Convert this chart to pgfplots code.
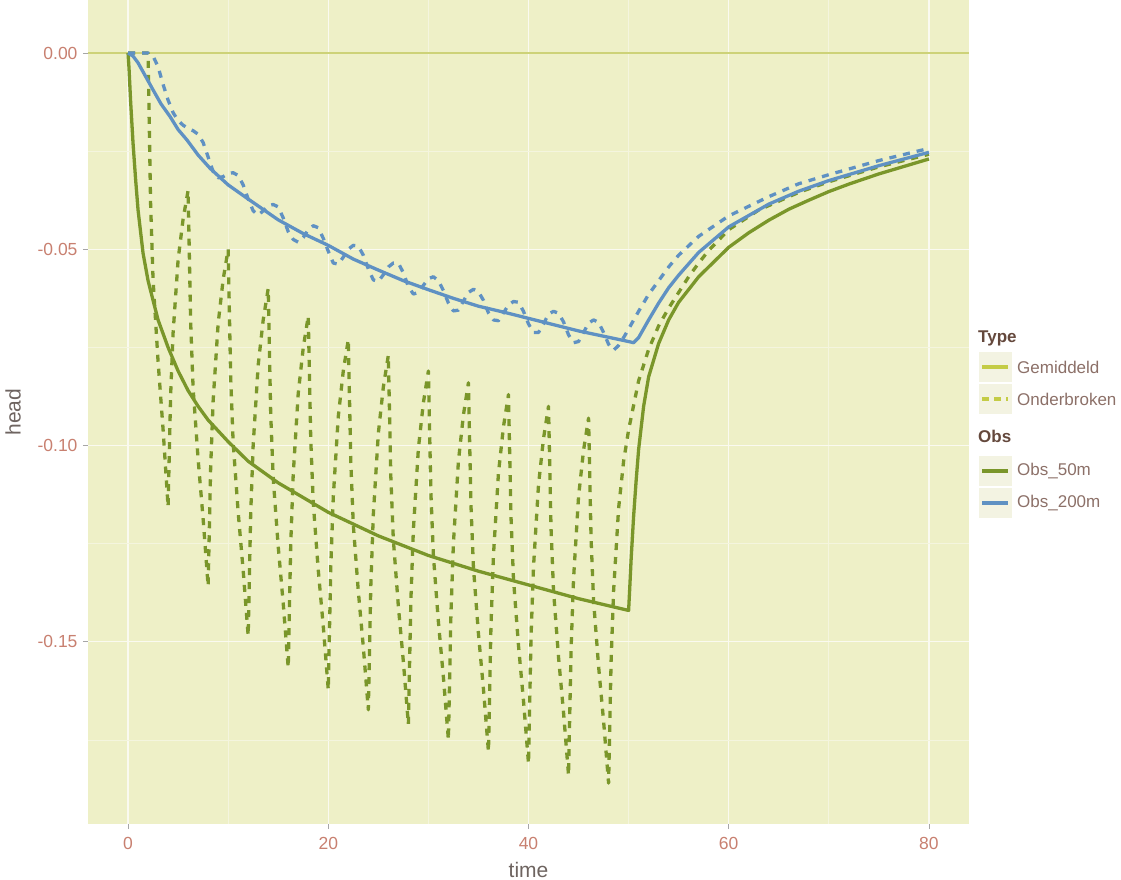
\documentclass[border=0pt]{standalone}
\usepackage{pgfplots}
\pgfplotsset{compat=1.18}
\usepackage{fontspec}
\setmainfont{Liberation Sans}
\definecolor{panelbg}{RGB}{238,240,199}
\definecolor{gridmaj}{RGB}{250,250,240}
\definecolor{gridmin}{RGB}{244,245,222}
\definecolor{obsgreen}{RGB}{122,150,42}
\definecolor{obsblue}{RGB}{95,145,195}
\definecolor{typecol}{RGB}{196,204,70}
\definecolor{hlinecol}{RGB}{205,210,120}
\definecolor{ticklab}{RGB}{200,128,112}
\definecolor{axtitle}{RGB}{110,100,96}
\definecolor{legtext}{RGB}{140,112,104}
\definecolor{legtitle}{RGB}{100,72,60}
\definecolor{keybg}{RGB}{243,243,226}
\begin{document}
\begin{tikzpicture}
\useasboundingbox (-88bp,-56bp) rectangle (1033bp,824bp);
\begin{axis}[
 at={(0,0)}, anchor=south west,
 scale only axis, width=881bp, height=824bp,
 xmin=-4, xmax=84, ymin=-0.1964, ymax=0.0135,
 axis background/.style={fill=panelbg},
 axis x line*=bottom, axis y line*=left, axis line style={draw=none},
 xtick={0,20,40,60,80}, xticklabels={0,20,40,60,80},
 ytick={-0.15,-0.1,-0.05,0}, yticklabels={-0.15,-0.10,-0.05,0.00},
 minor xtick={10,30,50,70}, minor ytick={-0.175,-0.125,-0.075,-0.025},
 grid=both,
 major grid style={draw=gridmaj, line width=1.3bp},
 minor grid style={draw=gridmin, line width=0.7bp},
 tick align=outside, major tick length=5bp, minor tick length=0pt,
 tick style={draw=black!35, line width=0.9bp},
 ticklabel style={font=\fontsize{17.5bp}{20bp}\selectfont, text=ticklab},
 xticklabel style={yshift=-5bp}, yticklabel style={xshift=-2bp},
 xlabel={time}, ylabel={head},
 every axis x label/.style={at={(axis description cs:0.5,0)}, anchor=center, yshift=-46bp, font=\fontsize{21bp}{24bp}\selectfont, text=axtitle},
 every axis y label/.style={at={(axis description cs:0,0.5)}, anchor=center, xshift=-75bp, rotate=90, font=\fontsize{21bp}{24bp}\selectfont, text=axtitle},
]
% horizontal reference line at 0
\addplot[hlinecol, line width=1.4bp] coordinates {(-4,0) (84,0)};
% Obs_50m, Onderbroken
\addplot[obsgreen, line width=3.3bp, dash pattern=on 7bp off 7bp, line join=round] coordinates {
(0,0) (2,0)
(2.25,-0.0381) (2.5,-0.0578) (3,-0.0786) (3.5,-0.0959) (4,-0.1156)
(4.25,-0.0874) (4.5,-0.0713) (5,-0.0527) (5.5,-0.0423) (6,-0.035)
(6.25,-0.0683) (6.5,-0.0854) (7,-0.1035) (7.5,-0.1187) (8,-0.1358)
(8.25,-0.1058) (8.5,-0.0886) (9,-0.0689) (9.5,-0.0577) (10,-0.050)
(10.25,-0.0825) (10.5,-0.0993) (11,-0.1170) (11.5,-0.1318) (12,-0.1485)
(12.25,-0.1175) (12.5,-0.0998) (13,-0.0795) (13.5,-0.0680) (14,-0.060)
(14.25,-0.0919) (14.5,-0.1083) (15,-0.1257) (15.5,-0.1402) (16,-0.1566)
(16.25,-0.1252) (16.5,-0.1073) (17,-0.0867) (17.5,-0.0751) (18,-0.067)
(18.25,-0.0984) (18.5,-0.1146) (19,-0.1317) (19.5,-0.1460) (20,-0.1622)
(20.25,-0.1310) (20.5,-0.1131) (21,-0.0926) (21.5,-0.0810) (22,-0.073)
(22.25,-0.1041) (22.5,-0.1202) (23,-0.1371) (23.5,-0.1513) (24,-0.1673)
(24.25,-0.1357) (24.5,-0.1176) (25,-0.0969) (25.5,-0.0851) (26,-0.077)
(26.25,-0.1080) (26.5,-0.1240) (27,-0.1409) (27.5,-0.1550) (28,-0.171)
(28.25,-0.1395) (28.5,-0.1215) (29,-0.1008) (29.5,-0.0891) (30,-0.081)
(30.25,-0.1120) (30.5,-0.1280) (31,-0.1449) (31.5,-0.1590) (32,-0.175)
(32.25,-0.1431) (32.5,-0.1249) (33,-0.1040) (33.5,-0.0922) (34,-0.084)
(34.25,-0.1150) (34.5,-0.1310) (35,-0.1479) (35.5,-0.1620) (36,-0.178)
(36.25,-0.1461) (36.5,-0.1279) (37,-0.1070) (37.5,-0.0952) (38,-0.087)
(38.25,-0.1180) (38.5,-0.1340) (39,-0.1509) (39.5,-0.1650) (40,-0.181)
(40.25,-0.1491) (40.5,-0.1309) (41,-0.1100) (41.5,-0.0982) (42,-0.090)
(42.25,-0.1210) (42.5,-0.1370) (43,-0.1539) (43.5,-0.1680) (44,-0.184)
(44.25,-0.1521) (44.5,-0.1339) (45,-0.1130) (45.5,-0.1012) (46,-0.093)
(46.25,-0.1237) (46.5,-0.1395) (47,-0.1562) (47.5,-0.1702) (48,-0.186)
(48.25,-0.155) (48.5,-0.137) (49,-0.116) (49.5,-0.104) (50,-0.096) (51,-0.0835)
(52,-0.0755) (53,-0.0695) (54,-0.0650) (55,-0.061) (56,-0.0570) (57,-0.0535)
(58,-0.0503) (60,-0.0450) (63,-0.0400) (67,-0.0355) (70,-0.0328) (75,-0.0290) (80,-0.0258)
};
% Obs_50m, Gemiddeld
\addplot[obsgreen, line width=3.3bp, line join=round] coordinates {
(0,0) (0.1,-0.004) (0.25,-0.012) (0.5,-0.023) (0.75,-0.032) (1,-0.040) (1.5,-0.051)
(2,-0.058) (3,-0.068) (4,-0.075) (5,-0.081) (6,-0.086) (7,-0.090) (8,-0.0935)
(10,-0.099) (12,-0.104) (15,-0.1095) (20,-0.117) (25,-0.123) (30,-0.128) (35,-0.132)
(40,-0.1355) (45,-0.139) (50,-0.142) (50.1,-0.137) (50.25,-0.129) (50.5,-0.118)
(50.75,-0.109) (51,-0.101) (51.5,-0.090) (52,-0.0825) (53,-0.0740) (54,-0.068)
(55,-0.0635) (57,-0.057) (60,-0.0495) (62,-0.0458) (64,-0.0426) (66,-0.0398)
(68,-0.0375) (70,-0.0353) (72,-0.0334) (75,-0.0308) (80,-0.0270)
};
% Obs_200m, Onderbroken
\addplot[obsblue, line width=3.3bp, dash pattern=on 7bp off 7bp, line join=round] coordinates {
(0,0) (2,0) (2.5,-0.0008) (3,-0.0035) (3.5,-0.0080) (4,-0.0120) (4.5,-0.0152)
(5,-0.0172) (5.5,-0.0184) (6,-0.0192) (6.5,-0.0198) (7,-0.0207) (7.5,-0.0228)
(8,-0.0265) (8.5,-0.0302) (9,-0.0318) (9.5,-0.0315) (10,-0.0307) (10.5,-0.0305)
(11,-0.0312) (11.5,-0.0336) (12,-0.0372) (12.5,-0.0402) (13,-0.0413) (13.5,-0.0402)
(14,-0.0389) (14.5,-0.0386) (15,-0.0392) (15.5,-0.0420) (16,-0.0455) (16.5,-0.0475)
(17,-0.0482) (17.5,-0.0470) (18,-0.0450) (18.5,-0.0440) (19,-0.0445) (19.5,-0.0472)
(20,-0.0505) (20.5,-0.0535) (21,-0.0538) (21.5,-0.0520) (22,-0.0500) (22.5,-0.0490)
(23,-0.0492) (23.5,-0.0515) (24,-0.0550) (24.5,-0.0578) (25,-0.0582) (25.5,-0.0565)
(26,-0.0545) (26.5,-0.0535) (27,-0.0535) (27.5,-0.0560) (28,-0.0595) (28.5,-0.0614)
(29,-0.0610) (29.5,-0.0592) (30,-0.0575) (30.5,-0.0570) (31,-0.0580) (31.5,-0.0605)
(32,-0.0637) (32.5,-0.0657) (33,-0.0655) (33.5,-0.0632) (34,-0.0610) (34.5,-0.0602)
(35,-0.0608) (35.5,-0.0630) (36,-0.0662) (36.5,-0.0680) (37,-0.0682) (37.5,-0.0662)
(38,-0.0642) (38.5,-0.0633) (39,-0.0635) (39.5,-0.0658) (40,-0.0690) (40.5,-0.0712)
(41,-0.0712) (41.5,-0.0690) (42,-0.0665) (42.5,-0.0658) (43,-0.0663) (43.5,-0.0685)
(44,-0.0718) (44.5,-0.0738) (45,-0.0735) (45.5,-0.0712) (46,-0.0688) (46.5,-0.0680)
(47,-0.0686) (47.5,-0.0712) (48,-0.0742) (48.5,-0.0757) (49,-0.0745) (49.5,-0.0725)
(50,-0.0703) (51,-0.0658) (52,-0.0615) (53,-0.0580) (54,-0.0545) (55,-0.0515)
(57,-0.0467) (60,-0.0415) (64,-0.0366) (67,-0.0333) (70,-0.0310) (75,-0.0274) (80,-0.0243)
};
% Obs_200m, Gemiddeld
\addplot[obsblue, line width=3.3bp, line join=round] coordinates {
(0,0) (0.5,-0.0008) (1,-0.0025) (1.5,-0.0048) (2.5,-0.0094) (3.3,-0.013) (4.2,-0.0162)
(5,-0.0195) (5.9,-0.0222) (7,-0.026) (8.2,-0.0294) (10,-0.0336) (12,-0.0372)
(15,-0.0425) (17.5,-0.046) (20,-0.049) (22.5,-0.0525) (25,-0.0553) (27.5,-0.058)
(30,-0.0603) (32.5,-0.0625) (35,-0.0645) (37.5,-0.066) (40,-0.0676) (45,-0.0708)
(50,-0.0735) (50.5,-0.0738) (51,-0.0725) (52,-0.068) (53,-0.0637) (54,-0.0598)
(55,-0.0566) (57,-0.0508) (60,-0.0443) (64,-0.0385) (67,-0.0352) (70,-0.0325) (75,-0.0287) (80,-0.0253)
};
\end{axis}
% legend
\begin{scope}[font=\fontsize{17bp}{20bp}\selectfont]
\node[anchor=west, inner sep=0pt, text=legtitle, font=\fontsize{17bp}{20bp}\selectfont\bfseries] at (890bp,486bp) {Type};
\fill[keybg] (891bp,442bp) rectangle (924bp,472bp);
\fill[keybg] (891bp,410bp) rectangle (924bp,440bp);
\draw[typecol, line width=3.3bp] (894bp,457bp) -- (920bp,457bp);
\draw[typecol, line width=3.3bp, dash pattern=on 7bp off 5bp] (894bp,425bp) -- (920bp,425bp);
\node[anchor=west, inner sep=0pt, text=legtext] at (929bp,457bp) {Gemiddeld};
\node[anchor=west, inner sep=0pt, text=legtext] at (929bp,425bp) {Onderbroken};
\node[anchor=west, inner sep=0pt, text=legtitle, font=\fontsize{17bp}{20bp}\selectfont\bfseries] at (890bp,388bp) {Obs};
\fill[keybg] (891bp,338bp) rectangle (924bp,368bp);
\fill[keybg] (891bp,306bp) rectangle (924bp,336bp);
\draw[obsgreen, line width=3.3bp] (894bp,353bp) -- (920bp,353bp);
\draw[obsblue, line width=3.3bp] (894bp,321bp) -- (920bp,321bp);
\node[anchor=west, inner sep=0pt, text=legtext] at (929bp,353bp) {Obs\_50m};
\node[anchor=west, inner sep=0pt, text=legtext] at (929bp,321bp) {Obs\_200m};
\end{scope}
\end{tikzpicture}
\end{document}
